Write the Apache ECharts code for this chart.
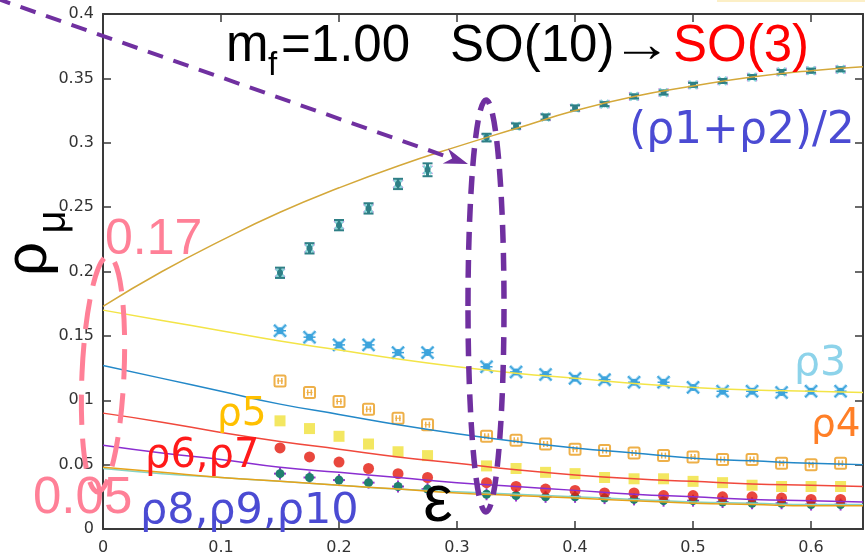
<!DOCTYPE html>
<html>
<head>
<meta charset="utf-8">
<script src="https://cdn.jsdelivr.net/npm/echarts@6/dist/echarts.min.js"></script>
<style>html,body{margin:0;padding:0;background:#fff;}#c{width:865px;height:556px;}</style>
</head>
<body>
<div id="c"></div>
<script>
// ---- data ----
const epsPts = [0.15,0.175,0.2,0.225,0.25,0.275,0.325,0.35,0.375,0.4,0.425,0.45,0.475,0.5,0.525,0.55,0.575,0.6,0.625];
const rho12 = [0.199,0.218,0.236,0.249,0.268,0.279,0.304,0.313,0.320,0.327,0.330,0.336,0.339,0.345,0.348,0.351,0.355,0.356,0.357];
const rho12Err = [0.004,0.004,0.004,0.004,0.004,0.005,0.003,0.002,0.002,0.002,0.0015,0.0015,0.0015,0.0015,0.0015,0.0015,0.0015,0.0015,0.0015];
const rho3 = [0.154,0.149,0.143,0.143,0.137,0.137,0.126,0.122,0.120,0.117,0.116,0.114,0.114,0.110,0.107,0.107,0.106,0.107,0.107];
const rho4 = [0.115,0.106,0.099,0.093,0.086,0.081,0.072,0.069,0.066,0.062,0.061,0.059,0.057,0.056,0.054,0.054,0.051,0.050,0.051];
const rho5 = [0.084,0.078,0.072,0.066,0.060,0.057,0.049,0.047,0.044,0.043,0.040,0.039,0.039,0.037,0.036,0.034,0.033,0.033,0.033];
const rho67 = [0.063,0.056,0.052,0.047,0.043,0.040,0.036,0.033,0.031,0.030,0.028,0.028,0.026,0.026,0.025,0.025,0.024,0.023,0.023];
const rho810 = [0.043,0.040,0.038,0.036,0.033,0.031,0.027,0.026,0.025,0.025,0.024,0.023,0.022,0.022,0.021,0.020,0.020,0.019,0.019];

const fitX = [0,0.05,0.1,0.15,0.2,0.25,0.3,0.35,0.4,0.45,0.5,0.55,0.6,0.644];
const fit12 = [0.173,0.200,0.224,0.246,0.265,0.282,0.297,0.311,0.325,0.336,0.344,0.351,0.356,0.359];
const fit3 = [0.170,0.162,0.154,0.146,0.139,0.132,0.126,0.121,0.117,0.113,0.110,0.108,0.107,0.106];
const fit4 = [0.127,0.117,0.107,0.097,0.089,0.081,0.074,0.068,0.063,0.059,0.055,0.053,0.051,0.050];
const fit5 = [0.090,0.083,0.075,0.068,0.062,0.056,0.051,0.046,0.042,0.039,0.037,0.035,0.034,0.033];
const fit67 = [0.065,0.059,0.054,0.048,0.044,0.040,0.036,0.033,0.030,0.027,0.025,0.023,0.022,0.021];
const fit810a = [0.048,0.044,0.040,0.037,0.034,0.031,0.028,0.026,0.024,0.022,0.020,0.019,0.018,0.018];
const fit810b = [0.047,0.043,0.040,0.037,0.034,0.031,0.029,0.027,0.025,0.023,0.021,0.020,0.019,0.019];

const xTicks = {min: 0, max: 0.644, interval: 0.1};
const yTicks = {min: 0, max: 0.4, interval: 0.05};

// ---- build ----
const pts = (ys) => epsPts.map((x, i) => [x, ys[i]]);
const fitLine = (ys) => fitX.map((x, i) => [x, ys[i]]);

function ibeam(params, api) {
  const x = api.value(0), y = api.value(1), e = api.value(2);
  const c = api.coord([x, y]), t = api.coord([x, y + e]), b = api.coord([x, y - e]);
  const teal = '#2e7f86', mag = '#d27be6', s = 4;
  return {type: 'group', children: [
    {type: 'line', shape: {x1: c[0]-s-1, y1: c[1]-s, x2: c[0]+s+1, y2: c[1]+s}, style: {stroke: mag, lineWidth: 1.5}},
    {type: 'line', shape: {x1: c[0]-s-1, y1: c[1]+s, x2: c[0]+s+1, y2: c[1]-s}, style: {stroke: mag, lineWidth: 1.5}},
    {type: 'line', shape: {x1: c[0]-4, y1: c[1]-4, x2: c[0]+4, y2: c[1]+4}, style: {stroke: '#86d8d8', lineWidth: 2.5}},
    {type: 'line', shape: {x1: c[0]-4, y1: c[1]+4, x2: c[0]+4, y2: c[1]-4}, style: {stroke: '#86d8d8', lineWidth: 2.5}},
    {type: 'line', shape: {x1: c[0], y1: t[1], x2: c[0], y2: b[1]}, style: {stroke: teal, lineWidth: 3}},
    {type: 'line', shape: {x1: c[0]-5, y1: t[1], x2: c[0]+5, y2: t[1]}, style: {stroke: teal, lineWidth: 2}},
    {type: 'line', shape: {x1: c[0]-5, y1: b[1], x2: c[0]+5, y2: b[1]}, style: {stroke: teal, lineWidth: 2}},
    {type: 'circle', shape: {cx: c[0], cy: c[1], r: 3}, style: {fill: teal}}
  ]};
}
function star(params, api) {
  const c = api.coord([api.value(0), api.value(1)]);
  const col = '#3ba3dc', s = 6;
  return {type: 'group', children: [
    {type: 'line', shape: {x1: c[0]-s, y1: c[1]-s, x2: c[0]+s, y2: c[1]+s}, style: {stroke: '#a6d8f2', lineWidth: 3.5}},
    {type: 'line', shape: {x1: c[0]-s, y1: c[1]+s, x2: c[0]+s, y2: c[1]-s}, style: {stroke: '#a6d8f2', lineWidth: 3.5}},
    {type: 'line', shape: {x1: c[0]-s, y1: c[1]-s, x2: c[0]+s, y2: c[1]+s}, style: {stroke: col, lineWidth: 1.5}},
    {type: 'line', shape: {x1: c[0]-s, y1: c[1]+s, x2: c[0]+s, y2: c[1]-s}, style: {stroke: col, lineWidth: 1.5}},
    {type: 'line', shape: {x1: c[0]-s, y1: c[1], x2: c[0]+s, y2: c[1]}, style: {stroke: col, lineWidth: 1.5}},
    {type: 'circle', shape: {cx: c[0], cy: c[1], r: 3.5}, style: {fill: col}}
  ]};
}
function boxplus(params, api) {
  const c = api.coord([api.value(0), api.value(1)]);
  const col = '#eeb049', h = 5.5;
  return {type: 'group', children: [
    {type: 'rect', shape: {x: c[0]-h, y: c[1]-h, width: 2*h, height: 2*h, r: 1.5}, style: {fill: 'rgba(255,255,255,0)', stroke: col, lineWidth: 2}},
    {type: 'line', shape: {x1: c[0]-1.8, y1: c[1]-3, x2: c[0]-1.8, y2: c[1]+3}, style: {stroke: col, lineWidth: 1.5}},
    {type: 'line', shape: {x1: c[0]+1.8, y1: c[1]-3, x2: c[0]+1.8, y2: c[1]+3}, style: {stroke: col, lineWidth: 1.5}},
    {type: 'line', shape: {x1: c[0]-3, y1: c[1], x2: c[0]+3, y2: c[1]}, style: {stroke: col, lineWidth: 1}}
  ]};
}
function tealdot(params, api) {
  const c = api.coord([api.value(0), api.value(1)]);
  const pur = '#9b30d0', s = 6;
  return {type: 'group', children: [
    {type: 'line', shape: {x1: c[0]-s, y1: c[1], x2: c[0]+s, y2: c[1]}, style: {stroke: pur, lineWidth: 2}},
    {type: 'line', shape: {x1: c[0], y1: c[1]-s, x2: c[0], y2: c[1]+s}, style: {stroke: pur, lineWidth: 2}},
    {type: 'circle', shape: {cx: c[0], cy: c[1], r: 4.5}, style: {fill: '#20806f'}}
  ]};
}

const lineSeries = (data, color) => ({
  type: 'line', data: fitLine(data), smooth: true, showSymbol: false, z: 4,
  lineStyle: {color: color, width: 1.5}, silent: true
});

// arrow geometry (annotation)
const aS = [-5, -2], aT = [468, 164];
const dx = aT[0]-aS[0], dy = aT[1]-aS[1], dl = Math.hypot(dx, dy);
const ux = dx/dl, uy = dy/dl, L = 24, W = 8;
const bx = aT[0]-L*ux, by = aT[1]-L*uy;
const arrowPts = [[aT[0], aT[1]], [bx - W*uy, by + W*ux], [aT[0]-0.7*L*ux, aT[1]-0.7*L*uy], [bx + W*uy, by - W*ux]];

// measure the title arrow glyph so it can be stretched to the reference length
const mctx = document.createElement('canvas').getContext('2d');
mctx.font = '51px "Liberation Sans"';
const arrowW = Math.max(1, mctx.measureText('\u2192').width);
const arrowScale = 60 / arrowW;

const txt = (text, x, y, size, fill, family, extra) => Object.assign({
  type: 'text', z: 100,
  style: {text: text, x: x, y: y, fontSize: size, fontFamily: family || 'DejaVu Sans', fill: fill,
          align: 'left', textAlign: 'left', verticalAlign: 'middle', textVerticalAlign: 'middle'}
}, extra || {});

const axisBase = {
  axisLine: {show: true, onZero: false, lineStyle: {color: '#3a3a3a', width: 2}},
  axisTick: {show: true, inside: true, length: 8, lineStyle: {color: '#3a3a3a', width: 1.5}},
  splitLine: {show: false}
};
const labelStyle = {color: '#333333', fontSize: 16, fontFamily: 'DejaVu Sans'};

const chart = echarts.init(document.getElementById('c'));
chart.setOption({
  animation: false,
  backgroundColor: '#fff',
  grid: {left: 103, right: 2, top: 14, bottom: 27},
  xAxis: [
    Object.assign({type: 'value', min: xTicks.min, max: xTicks.max, interval: xTicks.interval, position: 'bottom',
      axisLabel: Object.assign({show: true, showMaxLabel: false, margin: 11}, labelStyle)}, axisBase),
    Object.assign({type: 'value', min: xTicks.min, max: xTicks.max, interval: xTicks.interval, position: 'top',
      axisLabel: {show: false}}, axisBase)
  ],
  yAxis: [
    Object.assign({type: 'value', min: yTicks.min, max: yTicks.max, interval: yTicks.interval, position: 'left',
      axisLabel: Object.assign({show: true, margin: 9}, labelStyle)}, axisBase),
    Object.assign({type: 'value', min: yTicks.min, max: yTicks.max, interval: yTicks.interval, position: 'right',
      axisLabel: {show: false}}, axisBase)
  ],
  series: [
    {type: 'custom', renderItem: ibeam, data: epsPts.map((x, i) => [x, rho12[i], rho12Err[i]]), z: 2},
    {type: 'custom', renderItem: star, data: pts(rho3), z: 2},
    {type: 'custom', renderItem: boxplus, data: pts(rho4), z: 2},
    {type: 'scatter', data: pts(rho5), symbol: 'rect', symbolSize: 11, itemStyle: {color: '#f0e13a'}, z: 2},
    {type: 'scatter', data: pts(rho67), symbol: 'circle', symbolSize: 11, itemStyle: {color: '#e3190c'}, z: 2},
    {type: 'custom', renderItem: tealdot, data: pts(rho810), z: 2},
    lineSeries(fit12, '#d4a83a'),
    lineSeries(fit3, '#f3e447'),
    lineSeries(fit4, '#2388c8'),
    lineSeries(fit5, '#f0483c'),
    lineSeries(fit67, '#8a2ed0'),
    lineSeries(fit810b, '#86d3c4'),
    lineSeries(fit810a, '#e6a31a')
  ],
  graphic: [
    {type: 'rect', z: 90, shape: {x: 717, y: 0, width: 148, height: 2}, style: {fill: '#fcefc6'}},
    {type: 'ellipse', z: 90, x: 103, y: 374, rotation: -0.045, shape: {cx: 0, cy: 0, rx: 21, ry: 118},
      style: {fill: 'none', stroke: '#ff8097', lineWidth: 5, lineDash: [30, 14]}},
    {type: 'ellipse', z: 90, x: 486, y: 306, shape: {cx: 0, cy: 0, rx: 18, ry: 206},
      style: {fill: 'none', stroke: '#7030a0', lineWidth: 5.5, lineDash: [18, 10]}},
    {type: 'line', z: 90, shape: {x1: aS[0], y1: aS[1], x2: bx + 0.3*L*ux, y2: by + 0.3*L*uy},
      style: {stroke: '#7030a0', lineWidth: 4, lineDash: [16, 11]}},
    {type: 'polygon', z: 90, shape: {points: arrowPts}, style: {fill: '#7030a0'}},
    // title
    txt('m', 226, 47, 51, '#000', 'Liberation Sans'),
    txt('f', 268, 66, 33, '#000', 'Liberation Sans'),
    txt('=1.00', 281, 47, 51, '#000', 'Liberation Sans'),
    txt('SO(10)', 450, 47, 51, '#000', 'Liberation Sans'),
    {type: 'text', z: 100, x: 612, y: 47, scaleX: arrowScale, style: {text: '\u2192', x: 0, y: 0, fontSize: 51,
      fontFamily: 'Liberation Sans', fill: '#000', align: 'left', textAlign: 'left', verticalAlign: 'middle', textVerticalAlign: 'middle'}},
    txt('SO(3)', 673, 47, 51, '#ff0000', 'Liberation Sans'),
    // labels
    txt('(\u03c11+\u03c12)/2', 629, 132, 44, '#4b4bd3'),
    txt('\u03c13', 794, 364, 41, '#8dd3ea'),
    txt('\u03c14', 811, 426, 39, '#ff7f27'),
    txt('\u03c15', 217, 415, 39, '#ffc000'),
    txt('\u03c16,\u03c17', 145, 457, 40, '#ff1a1a'),
    txt('\u03c18,\u03c19,\u03c110', 140, 512, 43, '#4b4bd3'),
    txt('0.17', 105, 240, 50, '#ff8097', 'Liberation Sans'),
    txt('0.05', 33, 499, 51, '#ff8097', 'Liberation Sans'),
    {type: 'text', z: 100, style: {text: '\u03b5', x: 438, y: 503, fontSize: 66, fontFamily: 'Liberation Sans', fill: '#000',
      align: 'center', textAlign: 'center', verticalAlign: 'middle', textVerticalAlign: 'middle'}},
    // rotated y label rho_mu
    {type: 'text', z: 100, x: 29, y: 259, rotation: Math.PI/2, style: {text: '\u03c1', x: 0, y: 0, fontSize: 60, fontFamily: 'Liberation Sans', fill: '#000',
      align: 'center', textAlign: 'center', verticalAlign: 'middle', textVerticalAlign: 'middle'}},
    {type: 'text', z: 100, x: 54, y: 222, rotation: Math.PI/2, style: {text: '\u03bc', x: 0, y: 0, fontSize: 40, fontFamily: 'Liberation Sans', fill: '#000',
      align: 'center', textAlign: 'center', verticalAlign: 'middle', textVerticalAlign: 'middle'}}
  ]
});
</script>
</body>
</html>
